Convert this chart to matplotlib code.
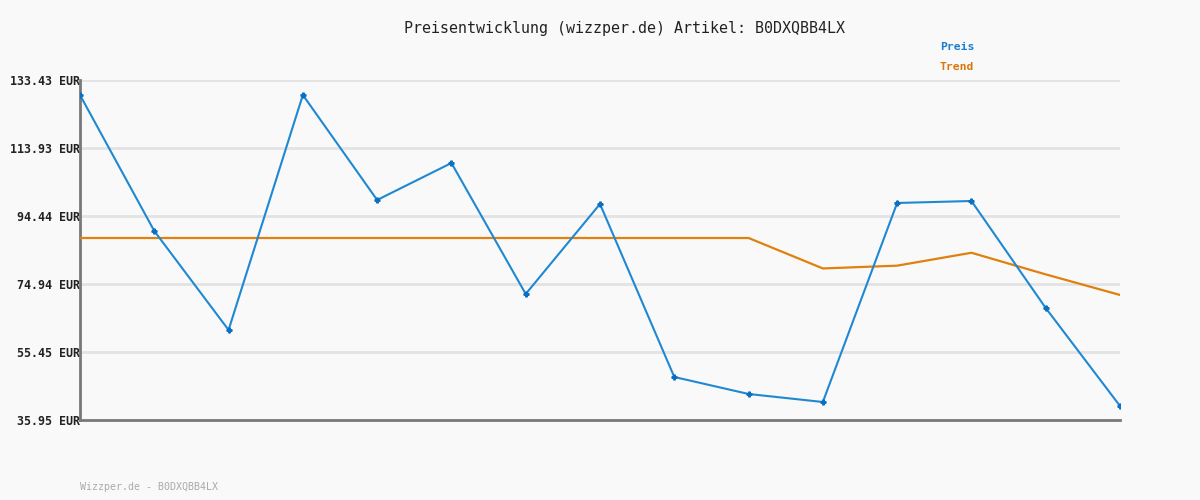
"""
Preisentwicklung chart: price and trend for one article
"""
import numpy as np
import matplotlib
matplotlib.use('Agg')
import matplotlib.pyplot as plt

# price points (EUR)
preis = [129.13, 90.14, 61.76, 129.13, 99.03, 109.63, 72.08, 97.88,
         48.28, 43.41, 41.11, 98.17, 98.74, 68.06, 39.97]
trend = [88.13, 88.13, 88.13, 88.13, 88.13, 88.13, 88.13, 88.13,
         88.13, 88.13, 79.40, 80.20, 83.90, 77.70, 71.80]
y_ticks = [35.95, 55.45, 74.94, 94.44, 113.93, 133.43]
y_labels = ['35.95 EUR', '55.45 EUR', '74.94 EUR', '94.44 EUR', '113.93 EUR', '133.43 EUR']

title = 'Preisentwicklung (wizzper.de) Artikel: B0DXQBB4LX'
footer = 'Wizzper.de - B0DXQBB4LX'

bg = '#f9f9f9'
blue = '#1f88d2'
orange = '#e0800e'
mono = 'DejaVu Sans Mono'

fig = plt.figure(figsize=(12, 5), dpi=100, facecolor=bg)
ax = fig.add_axes([80/1200, 80/500, 1040/1200, 340/500])
ax.set_facecolor(bg)

x = np.arange(len(preis))
ax.plot(x, trend, color=orange, linewidth=1.6, zorder=3)
ax.plot(x, preis, color=blue, linewidth=1.5, zorder=4,
        marker='P', markersize=3.5, markerfacecolor='#0b6fc2', markeredgecolor='#0b6fc2')

ax.set_xlim(0, len(preis) - 1)
ax.set_ylim(y_ticks[0], y_ticks[-1])
ax.set_yticks(y_ticks)
ax.set_yticklabels(y_labels, fontfamily=mono, fontsize=8.4, fontweight='bold', color='#222222')
ax.set_xticks([])
ax.tick_params(axis='y', length=0, pad=0)

for v in y_ticks[1:]:
	ax.axhline(v, color='#e3e3e3', linewidth=2, zorder=1)

for s in ['top', 'right']:
	ax.spines[s].set_visible(False)
for s in ['left', 'bottom']:
	ax.spines[s].set_color('#787878')
	ax.spines[s].set_linewidth(2)

fig.text(624/1200, 1 - 28/500, title, ha='center', va='center',
         fontfamily=mono, fontsize=10.8, color='#222222')
fig.text(940/1200, 1 - 47/500, 'Preis', ha='left', va='center',
         fontfamily=mono, fontsize=8.2, fontweight='bold', color='#1a7fd0')
fig.text(940/1200, 1 - 67/500, 'Trend', ha='left', va='center',
         fontfamily=mono, fontsize=8.2, fontweight='bold', color='#d9780a')
fig.text(80/1200, 1 - 487/500, footer, ha='left', va='center',
         fontfamily=mono, fontsize=7.2, color='#aaaaaa')

fig.savefig('out.png', dpi=100, facecolor=bg)
